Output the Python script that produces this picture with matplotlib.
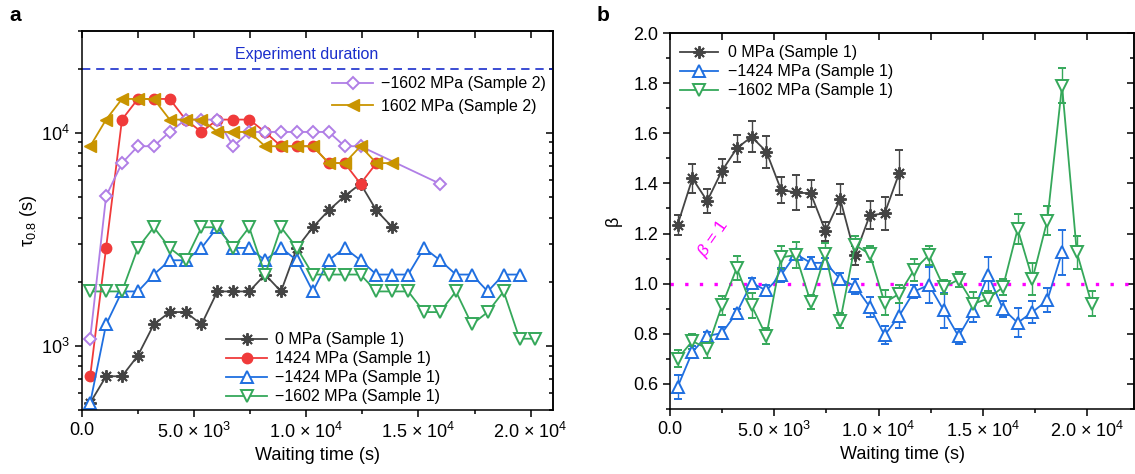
import numpy as np
import matplotlib
matplotlib.use('Agg')
import matplotlib.pyplot as plt
from matplotlib.ticker import MultipleLocator, LogLocator, NullFormatter, FuncFormatter

plt.rcParams['font.family'] = ['Liberation Sans', 'DejaVu Sans']
plt.rcParams['mathtext.fontset'] = 'custom'
plt.rcParams['mathtext.rm'] = 'Liberation Sans'
plt.rcParams['mathtext.it'] = 'Liberation Sans:italic'
plt.rcParams['axes.linewidth'] = 1.1

# waiting times (s), same grid for every series
t = [365, 1074, 1783, 2492, 3201, 3910, 4619, 5328, 6037, 6746, 7455, 8164, 8873, 9582,
     10291, 11000, 11709, 12418, 13127, 13836, 14545, 15254, 15963, 16672, 17381, 18090,
     18799, 19508, 20217]

# ---- panel a : tau_0.8 (s)
tau_0 = [540, 720, 720, 900, 1260, 1440, 1440, 1260, 1800, 1800, 1800, 2160, 1800, 2880,
         3600, 4320, 5040, 5760, 4320, 3600]
tau_p1424 = [720, 2880, 11520, 14400, 14400, 14400, 11520, 10080, 11520, 11520, 11520, 10080,
             8640, 8640, 8640, 7200, 7200, 5760, 7200]
tau_m1424 = [540, 1260, 1800, 1800, 2160, 2520, 2520, 2880, 3600, 2880, 2880, 2520, 2880, 2520,
             1800, 2520, 2880, 2520, 2160, 2160, 2160, 2880, 2520, 2160, 2160, 1800, 2160, 2160]
tau_m1602 = [1800, 1800, 1800, 2880, 3600, 2880, 2520, 3600, 3600, 2880, 3600, 2160, 3600, 2880,
             2160, 2160, 2160, 2160, 1800, 1800, 1800, 1440, 1440, 1800, 1260, 1440, 1800, 1080, 1080]
t_m1602_s2 = [365, 1074, 1783, 2492, 3201, 3910, 4619, 5328, 6037, 6746, 7455, 8164, 8873, 9582,
              10291, 11000, 11709, 12418, 15963]
tau_m1602_s2 = [1080, 5040, 7200, 8640, 8640, 10080, 11520, 11520, 11520, 8640, 10080, 10080,
                10080, 10080, 10080, 10080, 8640, 8640, 5760]
tau_p1602_s2 = [8640, 11520, 14400, 14400, 14400, 11520, 11520, 11520, 10080, 10080, 10080, 8640,
                8640, 8640, 8640, 7200, 7200, 8640, 7200, 7200]
exp_duration = 20000

# ---- panel b : beta
beta_0 = [1.235, 1.42, 1.33, 1.45, 1.54, 1.586, 1.527, 1.374, 1.364, 1.36, 1.21, 1.337, 1.114,
          1.273, 1.28, 1.443]
err_0 = [0.04, 0.058, 0.048, 0.048, 0.054, 0.062, 0.064, 0.052, 0.069, 0.053, 0.038, 0.06, 0.038,
         0.056, 0.064, 0.091]
beta_m1424 = [0.588, 0.728, 0.791, 0.803, 0.884, 1.003, 0.973, 1.035, 1.118, 1.083, 1.083, 1.019,
              0.99, 0.907, 0.794, 0.873, 0.969, 0.995, 0.893, 0.79, 0.891, 1.035, 0.9, 0.844,
              0.887, 0.933, 1.125]
err_m1424 = [0.048, 0.023, 0.015, 0.023, 0.013, 0.018, 0.023, 0.027, 0.02, 0.023, 0.02, 0.025,
             0.03, 0.038, 0.036, 0.048, 0.027, 0.073, 0.068, 0.031, 0.042, 0.072, 0.032, 0.058,
             0.042, 0.048, 0.091]
beta_m1602 = [0.701, 0.771, 0.741, 0.913, 1.062, 0.913, 0.791, 1.105, 1.114, 0.926, 1.118, 0.853,
              1.154, 1.118, 0.924, 0.96, 1.056, 1.114, 0.986, 1.016, 0.92, 0.94, 0.986, 1.218,
              1.019, 1.251, 1.79, 1.125, 0.92]
err_m1602 = [0.033, 0.03, 0.036, 0.037, 0.048, 0.05, 0.033, 0.046, 0.053, 0.027, 0.046, 0.03,
             0.036, 0.033, 0.05, 0.036, 0.044, 0.038, 0.027, 0.03, 0.045, 0.03, 0.033, 0.06,
             0.063, 0.057, 0.07, 0.066, 0.05]

c_gray = '#444444'
c_red = '#f03a3a'
c_blue = '#1f6fe0'
c_green = '#35a85a'
c_purple = '#b07ee6'
c_gold = '#c99400'
star = (8, 2, 0)

fig = plt.figure(figsize=(11.35, 4.74), dpi=100)
axa = fig.add_axes([82 / 1135, 64 / 474, 471 / 1135, 379 / 474])
axb = fig.add_axes([670 / 1135, 65 / 474, 464 / 1135, 376 / 474])

lw = 1.3
ms = 7.5

# panel a
axa.axhline(exp_duration, color='#1a2ecc', lw=1.2, ls=(0, (5, 3.5)))
axa.text(10000, 23300, 'Experiment duration', color='#1a2ecc', fontsize=11.5, ha='center', va='center')
l1, = axa.plot(t[:len(tau_0)], tau_0, color=c_gray, lw=lw, marker=star, ms=ms + 1.5, mew=1.4,
               label='0 MPa (Sample 1)')
l2, = axa.plot(t[:len(tau_p1424)], tau_p1424, color=c_red, lw=lw, marker='o', ms=ms,
               label='1424 MPa (Sample 1)')
l3, = axa.plot(t[:len(tau_m1424)], tau_m1424, color=c_blue, lw=lw, marker='^', ms=ms + 0.5,
               mfc='white', mew=1.4, label='\u22121424 MPa (Sample 1)')
l4, = axa.plot(t[:len(tau_m1602)], tau_m1602, color=c_green, lw=lw, marker='v', ms=ms + 0.5,
               mfc='white', mew=1.4, label='\u22121602 MPa (Sample 1)')
l5, = axa.plot(t_m1602_s2, tau_m1602_s2, color=c_purple, lw=lw, marker='D', ms=ms - 1, mfc='white',
               mew=1.4, label='\u22121602 MPa (Sample 2)')
l6, = axa.plot(t[:len(tau_p1602_s2)], tau_p1602_s2, color=c_gold, lw=lw, marker='<', ms=ms + 1.5,
               label='1602 MPa (Sample 2)')

axa.set_yscale('log')
axa.set_xlim(0, 21000)
axa.set_ylim(500, 30000)
axa.set_xlabel('Waiting time (s)', fontsize=13, labelpad=4)
axa.set_ylabel('τ$_{0.8}$ (s)', fontsize=13, labelpad=2)

leg1 = axa.legend(handles=[l1, l2, l3, l4], loc='lower left', bbox_to_anchor=(0.285, -0.01),
                  frameon=False, fontsize=11.5, handlelength=2.6, labelspacing=0.25,
                  handletextpad=0.5, borderaxespad=0.2)
axa.add_artist(leg1)
axa.legend(handles=[l5, l6], loc='upper left', bbox_to_anchor=(0.50, 0.918), frameon=False,
           fontsize=11.5, handlelength=2.6, labelspacing=0.45, handletextpad=0.5)

# panel b
axb.axhline(1.0, color='#ff00ff', lw=2.4, ls=(0, (1, 3.4)))
axb.text(2050, 1.18, r'$\beta$ = 1', color='#ff00ff', fontsize=12.5, rotation=55,
         ha='center', va='center')
eb = dict(lw=lw, capsize=3, elinewidth=1.0, capthick=1.0)
b1 = axb.errorbar(t[:len(beta_0)], beta_0, yerr=err_0, color=c_gray, marker=star, ms=ms + 1.5,
                  mew=1.4, **eb)
b2 = axb.errorbar(t[:len(beta_m1424)], beta_m1424, yerr=err_m1424, color=c_blue, marker='^',
                  ms=ms + 0.5, mfc='white', mew=1.4, **eb)
b3 = axb.errorbar(t[:len(beta_m1602)], beta_m1602, yerr=err_m1602, color=c_green, marker='v',
                  ms=ms + 0.5, mfc='white', mew=1.4, **eb)
axb.set_xlim(0, 22250)
axb.set_ylim(0.5, 2.0)
axb.set_xlabel('Waiting time (s)', fontsize=13, labelpad=4)
axb.set_ylabel('β', fontsize=13, labelpad=8)
axb.yaxis.set_major_locator(MultipleLocator(0.2))
axb.yaxis.set_minor_locator(MultipleLocator(0.1))
axb.yaxis.set_major_formatter(FuncFormatter(lambda v, p: '%.1f' % v))
axb.legend([b1[0], b2[0], b3[0]],
           ['0 MPa (Sample 1)', '\u22121424 MPa (Sample 1)', '\u22121602 MPa (Sample 1)'],
           loc='upper left', bbox_to_anchor=(-0.01, 1.005), frameon=False, fontsize=11.5,
           handlelength=2.4, labelspacing=0.25, handletextpad=0.6)


def xfmt(v, p):
    if abs(v) < 1e-9:
        return '0.0'
    if v < 0:
        return ''
    e = int(np.floor(np.log10(v)))
    return r'%.1f $\times$ 10$^{%d}$' % (v / 10 ** e, e)


for ax in (axa, axb):
    ax.xaxis.set_major_locator(MultipleLocator(5000))
    ax.xaxis.set_minor_locator(MultipleLocator(2500))
    ax.xaxis.set_major_formatter(FuncFormatter(xfmt))
    ax.tick_params(which='both', direction='out', labelsize=13, width=1.1)
    ax.tick_params(which='major', length=5)
    ax.tick_params(which='minor', length=3)
    top = ax.secondary_xaxis('top')
    top.xaxis.set_major_locator(MultipleLocator(2500))
    top.tick_params(direction='in', length=5, width=1.1, labeltop=False)
    right = ax.secondary_yaxis('right')
    right.tick_params(which='both', direction='in', width=1.1, labelright=False)
    right.tick_params(which='major', length=5)
    right.tick_params(which='minor', length=3)
    if ax is axb:
        right.yaxis.set_major_locator(MultipleLocator(0.2))
        right.yaxis.set_minor_locator(MultipleLocator(0.1))
    else:
        right.yaxis.set_major_locator(LogLocator(10))
        right.yaxis.set_minor_locator(LogLocator(10, subs=np.arange(2, 10)))
        right.yaxis.set_minor_formatter(NullFormatter())

axa.yaxis.set_minor_locator(LogLocator(10, subs=np.arange(2, 10)))
axa.yaxis.set_minor_formatter(NullFormatter())

fig.text(0.008, 0.955, 'a', fontsize=15, fontweight='bold')
fig.text(0.526, 0.955, 'b', fontsize=15, fontweight='bold')

fig.savefig('out.png', dpi=100)
